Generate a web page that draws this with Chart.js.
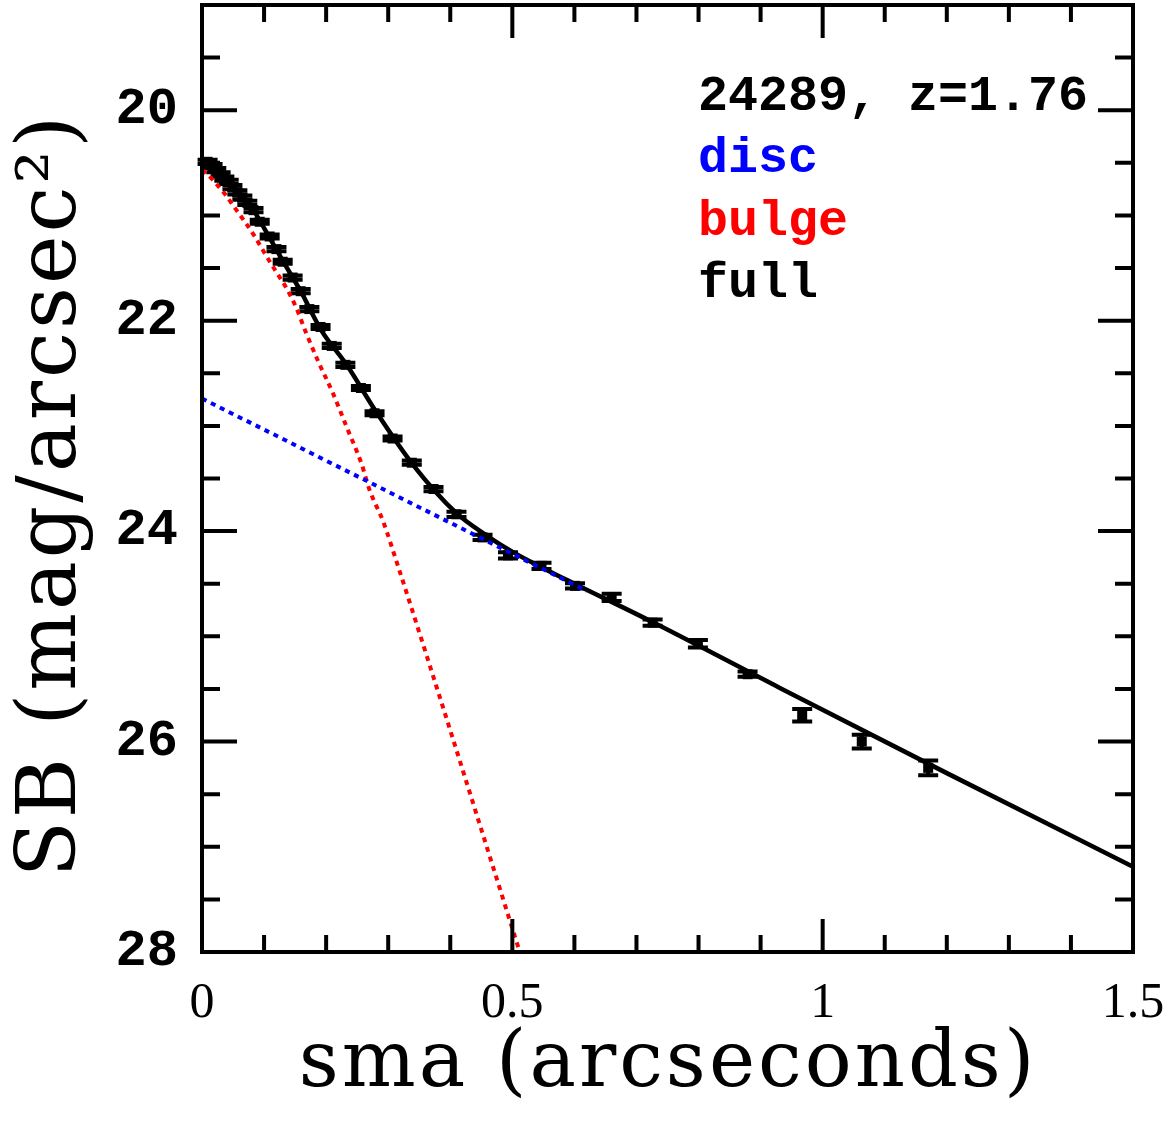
<!DOCTYPE html>
<html>
<head>
<meta charset="utf-8">
<script src="https://cdn.jsdelivr.net/npm/chart.js@4.4.0/dist/chart.umd.min.js"></script>
<style>
  html, body { margin:0; padding:0; background:#fff; }
</style>
</head>
<body>
<canvas id="sbChart" width="1171" height="1139"></canvas>
<script>
// surface brightness profile, object 24289 at z=1.76

// measured points (sma in arcsec, SB in mag/arcsec^2, 1-sigma error)
const smaPts = [0.009,0.017,0.023,0.030,0.036,0.043,0.049,0.057,0.065,0.073,0.083,0.093,0.109,0.120,0.130,0.146,0.159,0.173,0.191,0.209,0.231,0.256,0.278,0.307,0.338,0.373,0.410,0.452,0.493,0.547,0.601,0.660,0.726,0.799,0.879,0.967,1.063,1.170];
const sbPts  = [20.49,20.53,20.57,20.61,20.65,20.68,20.73,20.78,20.83,20.88,20.95,21.06,21.20,21.32,21.44,21.59,21.72,21.89,22.06,22.24,22.42,22.64,22.88,23.12,23.35,23.60,23.84,24.06,24.23,24.33,24.52,24.63,24.87,25.07,25.36,25.75,26.00,26.25];
const sbErr  = [0.02,0.02,0.02,0.02,0.02,0.02,0.02,0.02,0.02,0.02,0.02,0.02,0.02,0.02,0.02,0.02,0.02,0.02,0.02,0.02,0.02,0.02,0.02,0.02,0.02,0.02,0.025,0.025,0.03,0.03,0.025,0.035,0.03,0.035,0.025,0.06,0.065,0.07];

// full model (solid black)
const fullX = [0,0.009,0.023,0.043,0.065,0.083,0.101,0.130,0.159,0.192,0.233,0.281,0.340,0.410,0.458,0.501,0.549,0.600,0.721,0.931,1.200,1.500];
const fullY = [20.48,20.50,20.57,20.68,20.82,20.95,21.13,21.43,21.72,22.09,22.42,22.87,23.37,23.83,24.04,24.20,24.35,24.50,24.85,25.49,26.30,27.19];

// disc component (blue dotted)
const discX = [0,0.62];
const discY = [22.74,24.57];

// bulge component (red dotted)
const bulgeX = [0,0.007,0.020,0.036,0.052,0.069,0.085,0.101,0.120,0.136,0.152,0.168,0.189,0.211,0.233,0.257,0.270,0.292,0.314,0.512];
const bulgeY = [20.57,20.60,20.68,20.79,20.92,21.06,21.20,21.36,21.54,21.69,21.88,22.12,22.41,22.69,23.01,23.36,23.61,23.91,24.30,28.00];

// axes
const xLabelTicks = [0,0.5,1,1.5];
const yLabelTicks = [20,22,24,26,28];
const xMinorTicks = [0.1,0.2,0.3,0.4,0.5,0.6,0.7,0.8,0.9,1.0,1.1,1.2,1.3,1.4];
const xMajorTicks = [0.5,1.0];
const yMinorTicks = [19.5,20,20.5,21,21.5,22,22.5,23,23.5,24,24.5,25,25.5,26,26.5,27,27.5];
const yMajorTicks = [20,22,24,26];
const xTitle = 'sma (arcseconds)';
const yTitle = 'SB (mag/arcsec²)';

const legendLines = [
  {text:'24289, z=1.76', color:'#000000'},
  {text:'disc', color:'#0000ff'},
  {text:'bulge', color:'#ff0000'},
  {text:'full', color:'#000000'}
];

const xy = (xs, ys) => xs.map((v,i)=>({x:v, y:ys[i]}));

// error bars + markers, drawn under the model lines
const errorBars = {
  id:'errorBars',
  beforeDatasetsDraw(chart){
    const {ctx, scales:{x,y}} = chart;
    ctx.save();
    ctx.strokeStyle='#000'; ctx.fillStyle='#000';
    smaPts.forEach((v,i)=>{
      const px = x.getPixelForValue(v);
      const top = y.getPixelForValue(sbPts[i]-sbErr[i]);
      const bot = y.getPixelForValue(sbPts[i]+sbErr[i]);
      const mid = y.getPixelForValue(sbPts[i]);
      ctx.lineWidth=4;
      ctx.beginPath();
      ctx.moveTo(px,top); ctx.lineTo(px,bot);
      ctx.moveTo(px-10,top); ctx.lineTo(px+10,top);
      ctx.moveTo(px-10,bot); ctx.lineTo(px+10,bot);
      ctx.stroke();
      ctx.fillRect(px-5, mid-5, 10, 10);
    });
    ctx.restore();
  }
};

// box frame with inward ticks on all sides, axis titles and the annotation text
const frame = {
  id:'frame',
  afterDraw(chart){
    const {ctx, chartArea:a, scales:{x,y}} = chart;
    ctx.save();
    ctx.strokeStyle='#000'; ctx.lineWidth=4; ctx.lineCap='butt';
    ctx.beginPath();
    xMinorTicks.forEach(v=>{
      const px = x.getPixelForValue(v);
      const L = xMajorTicks.includes(v) ? 33 : 17;
      ctx.moveTo(px,a.bottom); ctx.lineTo(px,a.bottom-L);
      ctx.moveTo(px,a.top); ctx.lineTo(px,a.top+L);
    });
    yMinorTicks.forEach(v=>{
      const py = y.getPixelForValue(v);
      const L = yMajorTicks.includes(v) ? 35 : 18;
      ctx.moveTo(a.left,py); ctx.lineTo(a.left+L,py);
      ctx.moveTo(a.right,py); ctx.lineTo(a.right-L,py);
    });
    ctx.stroke();
    ctx.strokeRect(a.left,a.top,a.right-a.left,a.bottom-a.top);

    ctx.fillStyle='#000';
    ctx.textAlign='center'; ctx.textBaseline='alphabetic';
    ctx.letterSpacing='3px';
    ctx.font='78px "DejaVu Serif"';
    ctx.fillText(xTitle, 668, 1086);
    ctx.save();
    ctx.translate(75, 495);
    ctx.rotate(-Math.PI/2);
    ctx.font='82px "DejaVu Serif"';
    ctx.fillText(yTitle, 0, 0);
    ctx.restore();
    ctx.letterSpacing='0px';

    ctx.font = 'bold 50px "Liberation Mono"';
    ctx.textAlign='left'; ctx.textBaseline='middle';
    legendLines.forEach((l,i)=>{
      ctx.fillStyle = l.color;
      ctx.fillText(l.text, 698, 97 + i*62.5);
    });
    ctx.restore();
  }
};

const noPad = s => { s.paddingLeft = 0; s.paddingRight = 0; s.paddingTop = 0; s.paddingBottom = 0; };

new Chart(document.getElementById('sbChart'), {
  type:'scatter',
  data:{
    datasets:[
      {label:'disc', data:xy(discX,discY), showLine:true, borderColor:'#0000ff', borderWidth:4, borderDash:[5,5], pointRadius:0, order:1},
      {label:'bulge', data:xy(bulgeX,bulgeY), showLine:true, borderColor:'#ff0000', borderWidth:4, borderDash:[5,5], pointRadius:0, cubicInterpolationMode:'monotone', order:1},
      {label:'full', data:xy(fullX,fullY), showLine:true, borderColor:'#000000', borderWidth:4.5, pointRadius:0, cubicInterpolationMode:'monotone', order:2}
    ]
  },
  options:{
    responsive:false,
    animation:false,
    devicePixelRatio:1,
    layout:{padding:{top:5, right:38, left:0, bottom:0}},
    plugins:{legend:{display:false}, tooltip:{enabled:false}},
    scales:{
      x:{
        type:'linear', min:0, max:1.5,
        afterBuildTicks(s){ s.ticks = xLabelTicks.map(v=>({value:v})); },
        afterFit(s){ s.height = 187; noPad(s); },
        grid:{display:false, drawTicks:false},
        border:{display:false},
        ticks:{
          color:'#000', padding:22, maxRotation:0, autoSkip:false,
          font:{family:'"Liberation Serif"', size:50},
          callback:v=>String(v)
        }
      },
      y:{
        type:'linear', min:19, max:28, reverse:true,
        afterBuildTicks(s){ s.ticks = yLabelTicks.map(v=>({value:v})); },
        afterFit(s){ s.width = 202; noPad(s); },
        grid:{display:false, drawTicks:false},
        border:{display:false},
        ticks:{
          color:'#000', padding:24, autoSkip:false,
          font:{family:'"Liberation Mono"', size:52, weight:'bold'},
          callback:v=>String(v)
        }
      }
    }
  },
  plugins:[errorBars, frame]
});
</script>
</body>
</html>
